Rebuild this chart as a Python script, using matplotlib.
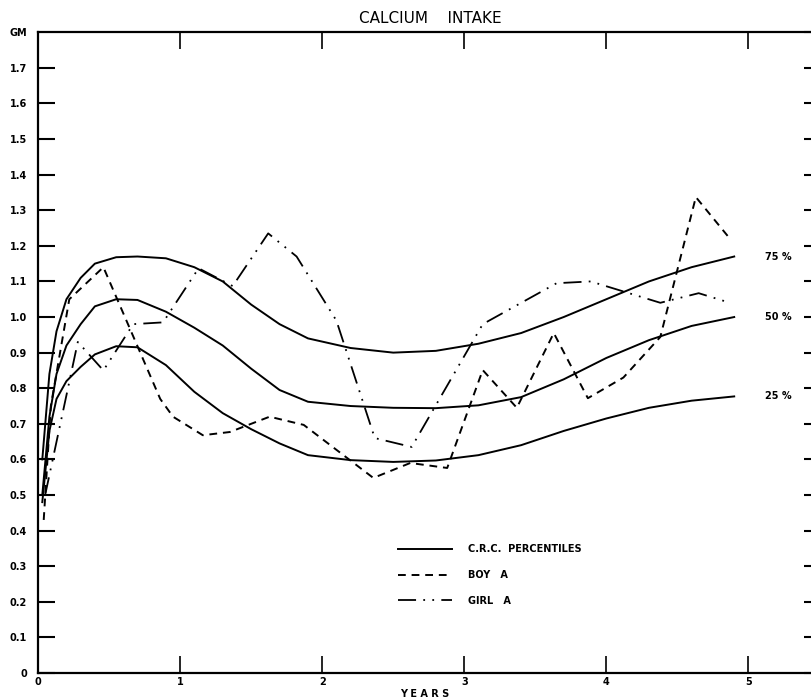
import matplotlib
matplotlib.use('Agg')
import matplotlib.pyplot as plt

# C.R.C. percentile curves (years, grams)
crc_years = [0.03, 0.08, 0.13, 0.2, 0.3, 0.4, 0.55, 0.7, 0.9, 1.1, 1.3, 1.5, 1.7, 1.9,
             2.2, 2.5, 2.8, 3.1, 3.4, 3.7, 4.0, 4.3, 4.6, 4.9]
p75 = [0.6, 0.84, 0.96, 1.05, 1.11, 1.15, 1.168, 1.17, 1.165, 1.14, 1.10, 1.035, 0.98, 0.94,
       0.913, 0.90, 0.905, 0.925, 0.955, 1.0, 1.05, 1.10, 1.14, 1.17]
p50 = [0.5, 0.72, 0.84, 0.92, 0.98, 1.03, 1.05, 1.048, 1.015, 0.97, 0.92, 0.855, 0.795, 0.762,
       0.75, 0.745, 0.744, 0.752, 0.775, 0.825, 0.885, 0.935, 0.975, 1.0]
p25 = [0.48, 0.68, 0.77, 0.82, 0.86, 0.895, 0.918, 0.915, 0.865, 0.79, 0.73, 0.685, 0.645, 0.612,
       0.598, 0.593, 0.597, 0.612, 0.64, 0.68, 0.715, 0.745, 0.765, 0.777]
pct_labels = ['75 %', '50 %', '25 %']

boy_years = [0.04, 0.09, 0.22, 0.46, 0.86, 0.95, 1.16, 1.35, 1.63, 1.87, 2.36, 2.62, 2.88,
             3.13, 3.37, 3.63, 3.87, 4.12, 4.38, 4.63, 4.87]
boy_a = [0.43, 0.75, 1.05, 1.14, 0.77, 0.72, 0.668, 0.677, 0.72, 0.697, 0.548, 0.59, 0.576,
         0.851, 0.745, 0.955, 0.772, 0.83, 0.944, 1.337, 1.22]

girl_years = [0.05, 0.28, 0.46, 0.67, 0.88, 1.13, 1.37, 1.62, 1.82, 2.1, 2.37, 2.63, 3.13,
              3.65, 3.89, 4.38, 4.65, 4.87]
girl_a = [0.5, 0.93, 0.85, 0.98, 0.985, 1.137, 1.087, 1.235, 1.17, 0.99, 0.66, 0.635, 0.98,
          1.095, 1.1, 1.04, 1.067, 1.04]

y_ticks = [0.0, 0.1, 0.2, 0.3, 0.4, 0.5, 0.6, 0.7, 0.8, 0.9, 1.0, 1.1, 1.2, 1.3, 1.4, 1.5, 1.6, 1.7, 1.8]
y_labels = ['0', '0.1', '0.2', '0.3', '0.4', '0.5', '0.6', '0.7', '0.8', '0.9', '1.0',
            '1.1', '1.2', '1.3', '1.4', '1.5', '1.6', '1.7', 'GM']
x_ticks = [0, 1, 2, 3, 4, 5]

fig = plt.figure(figsize=(8.11, 6.98), dpi=100)
ax = fig.add_axes([0.0469, 0.0358, 0.953, 0.918])

crc_line, = ax.plot(crc_years, p75, color='black', lw=1.4)
ax.plot(crc_years, p50, color='black', lw=1.4)
ax.plot(crc_years, p25, color='black', lw=1.4)
boy_line, = ax.plot(boy_years, boy_a, color='black', lw=1.4, linestyle=(0, (4, 3)))
girl_line, = ax.plot(girl_years, girl_a, color='black', lw=1.3,
                     linestyle=(0, (10, 4, 1, 4, 1, 4)))

for yv, lab in zip([p75[-1], p50[-1], p25[-1]], pct_labels):
    ax.text(5.12, yv, lab, fontsize=7, fontweight='bold', va='center', ha='left')

ax.set_xlim(0, 5.44)
ax.set_ylim(0, 1.8)

ax.spines['right'].set_visible(False)
for s in ['left', 'bottom', 'top']:
    ax.spines[s].set_linewidth(1.6)

ax.set_yticks(y_ticks)
ax.set_yticklabels(y_labels, fontsize=7, fontweight='bold')
ax.set_xticks(x_ticks)
ax.set_xticklabels([str(v) for v in x_ticks], fontsize=7, fontweight='bold')
ax.tick_params(axis='y', direction='in', length=12, width=1.5, pad=8,
               right=True)
ax.tick_params(axis='x', direction='in', length=12, width=1.2, pad=3, top=True)
ax.yaxis.get_major_ticks()[-1].tick1line.set_visible(False)
for t in ax.yaxis.get_major_ticks():
    t.tick2line.set_markersize(5)
ax.xaxis.get_major_ticks()[0].tick1line.set_visible(False)
ax.xaxis.get_major_ticks()[0].tick2line.set_visible(False)

ax.set_xlabel('Y E A R S', fontsize=7, fontweight='bold', labelpad=1)
fig.text(0.53, 0.974, 'CALCIUM    INTAKE', fontsize=11, ha='center', va='center')

ax.legend([crc_line, boy_line, girl_line],
          ['C.R.C.  PERCENTILES', 'BOY   A', 'GIRL   A'],
          loc='center left', bbox_to_anchor=(0.459, 0.153), frameon=False,
          borderpad=0, handlelength=5.6, handletextpad=1.6, labelspacing=1.6,
          prop={'size': 7, 'weight': 'bold'})

fig.savefig('out.png', dpi=100)
